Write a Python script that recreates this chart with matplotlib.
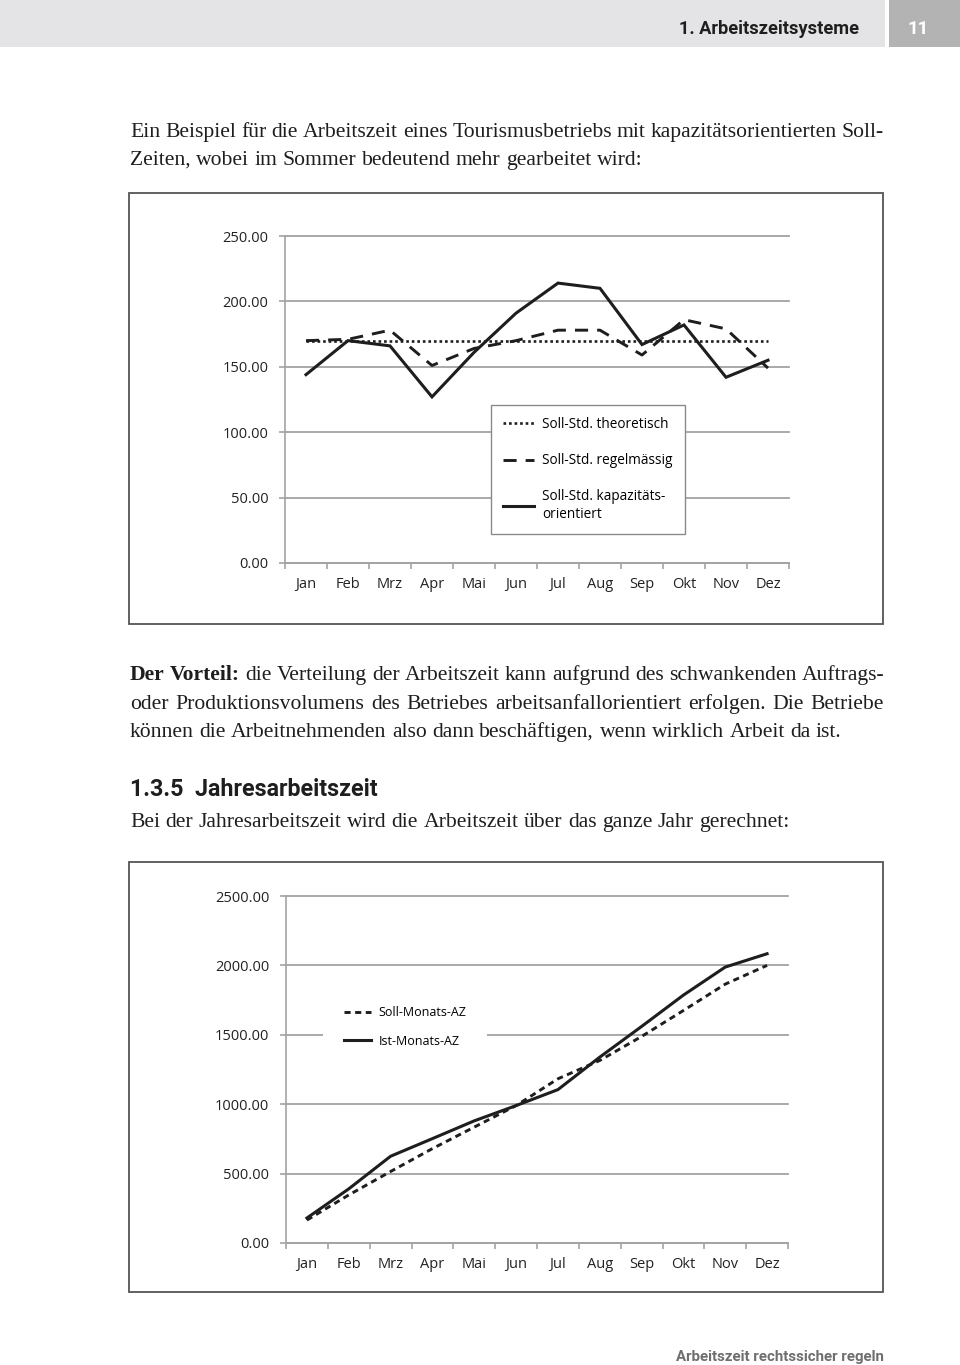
import numpy as np
import matplotlib
matplotlib.use('Agg')
import matplotlib.pyplot as plt
from matplotlib import font_manager as fm
from matplotlib.patches import Rectangle
from matplotlib.ticker import FormatStrFormatter

# ---- data ----
months = ['Jan', 'Feb', 'Mrz', 'Apr', 'Mai', 'Jun', 'Jul', 'Aug', 'Sep', 'Okt', 'Nov', 'Dez']

soll_theoretisch = [170, 170, 170, 170, 170, 170, 170, 170, 170, 170, 170, 170]
soll_regelmaessig = [170, 171, 178, 151, 164, 170, 178, 178, 159, 186, 179, 149]
soll_kapazitaet = [144, 170, 166, 127, 161, 191, 214, 210, 167, 182, 142, 155]

soll_monats_az = [165, 346, 515, 680, 835, 990, 1183, 1315, 1488, 1675, 1865, 2000]
ist_monats_az = [180, 390, 625, 752, 880, 990, 1105, 1339, 1560, 1786, 1988, 2084]


def pick(*names):
    for n in names:
        try:
            fm.findfont(fm.FontProperties(family=n), fallback_to_default=False)
            return n
        except Exception:
            pass
    return 'DejaVu Sans'


W, H = 960, 1365
SERIF = pick('Liberation Serif', 'DejaVu Serif')
SANS = pick('Open Sans', 'DejaVu Sans')
HEAD = pick('Roboto', 'Open Sans')
INK = '#1e1e1e'
GRID = '#a3a3a3'

fig = plt.figure(figsize=(W / 100, H / 100), dpi=100)
page = fig.add_axes([0, 0, 1, 1])
page.set_xlim(0, W)
page.set_ylim(H, 0)
page.axis('off')
renderer = fig.canvas.get_renderer()


def width_px(t):
    return t.get_window_extent(renderer).width


def fit_text(x, y, s, target, ha='left', **kw):
    # scale font so the string spans `target` pixels
    t = page.text(x, y, s, ha=ha, va='baseline', fontsize=10, **kw)
    t.set_fontsize(10 * target / width_px(t))
    return t


def body_line(y, line, size, justify=False, bold=0):
    words = line.split(' ')
    texts = [page.text(0, y, w, fontsize=size, family=SERIF, va='baseline',
                       color=INK, fontweight='bold' if i < bold else 'normal')
             for i, w in enumerate(words)]
    widths = [width_px(t) for t in texts]
    gap = size * 0.25 * 100 / 72
    if justify:
        gap = (884 - 130 - sum(widths)) / (len(words) - 1)
    x = 130
    for t, w in zip(texts, widths):
        t.set_x(x)
        x += w + gap


# ---- page header / footer ----
page.add_patch(Rectangle((0, 0), 885, 47, facecolor='#e4e4e6', edgecolor='none'))
page.add_patch(Rectangle((889, 0), 71, 47, facecolor='#b3b3b3', edgecolor='none'))
fit_text(859, 34, '1. Arbeitszeitsysteme', 180, ha='right', family=HEAD,
         fontweight='bold', color=INK)
page.text(918, 34, '11', ha='center', va='baseline', fontsize=13.5, family=HEAD,
          color='white', fontweight='bold')
fit_text(884, 1361, 'Arbeitszeit rechtssicher regeln', 208, ha='right',
         family=HEAD, color='#6e6e6e', fontweight='bold')

# ---- body text ----
probe = page.text(0, 0, 'können die Arbeitnehmenden also dann beschäftigen, wenn wirklich Arbeit da ist.',
                  fontsize=10, family=SERIF)
body_size = 10 * 708 / width_px(probe)
probe.remove()

body_line(137, 'Ein Beispiel für die Arbeitszeit eines Tourismusbetriebs mit kapazitätsorientierten Soll-',
          body_size, justify=True)
body_line(165, 'Zeiten, wobei im Sommer bedeutend mehr gearbeitet wird:', body_size)
body_line(680, 'Der Vorteil: die Verteilung der Arbeitszeit kann aufgrund des schwankenden Auftrags-',
          body_size, justify=True, bold=2)
body_line(709, 'oder Produktionsvolumens des Betriebes arbeitsanfallorientiert erfolgen. Die Betriebe',
          body_size, justify=True)
body_line(737, 'können die Arbeitnehmenden also dann beschäftigen, wenn wirklich Arbeit da ist.', body_size)
fit_text(130, 796, '1.3.5  Jahresarbeitszeit', 248, family=HEAD,
         fontweight='bold', color=INK)
body_line(827, 'Bei der Jahresarbeitszeit wird die Arbeitszeit über das ganze Jahr gerechnet:', body_size)

# chart frames
page.add_patch(Rectangle((129, 193), 754, 431, fill=False, edgecolor='#555555', lw=1.3))
page.add_patch(Rectangle((129, 862), 754, 430, fill=False, edgecolor='#555555', lw=1.3))


def px_axes(x0, y0, x1, y1):
    return fig.add_axes([x0 / W, 1 - y1 / H, (x1 - x0) / W, (y1 - y0) / H])


def style_chart(ax, ymax, step):
    ax.set_xlim(0, 12)
    ax.set_ylim(0, ymax)
    ax.set_yticks(np.arange(0, ymax + 1, step))
    ax.yaxis.set_major_formatter(FormatStrFormatter('%.2f'))
    ax.set_xticks(np.arange(12) + 0.5)
    ax.set_xticklabels(months)
    ax.set_xticks(np.arange(13), minor=True)
    ax.tick_params(axis='x', which='major', length=0, pad=10, labelsize=10.5, labelcolor='#222222')
    ax.tick_params(axis='x', which='minor', length=4, color=GRID, width=1.2)
    ax.tick_params(axis='y', length=4, color=GRID, width=1.2, pad=8, labelsize=10.5,
                   labelcolor='#222222')
    ax.grid(axis='y', color=GRID, lw=1.3)
    ax.set_axisbelow(True)
    for s in ['top', 'right']:
        ax.spines[s].set_visible(False)
    for s in ['left', 'bottom']:
        ax.spines[s].set_color(GRID)
        ax.spines[s].set_linewidth(1.2)
    for lbl in ax.get_xticklabels() + ax.get_yticklabels():
        lbl.set_family(SANS)
    for gl in ax.get_ygridlines():
        gl.set_clip_on(False)


x = np.arange(12) + 0.5

# ---- chart 1: monthly target hours ----
ax1 = px_axes(285, 236, 789, 563)
style_chart(ax1, 250, 50)
ax1.plot(x, soll_theoretisch, color=INK, lw=1.9, ls=(0, (1, 1.1)),
         label='Soll-Std. theoretisch')
ax1.plot(x, soll_regelmaessig, color=INK, lw=2.1, ls=(0, (4.5, 3.1)),
         label='Soll-Std. regelmässig')
ax1.plot(x, soll_kapazitaet, color=INK, lw=2.2, solid_joinstyle='miter',
         label='Soll-Std. kapazitäts-\norientiert')
leg1 = ax1.legend(loc='upper left', bbox_to_anchor=(491 / W, 1 - 405 / H),
                  bbox_transform=fig.transFigure, frameon=True, fancybox=False,
                  edgecolor='#8a8a8a', framealpha=1, borderpad=0.9, borderaxespad=0,
                  handlelength=2.28, handletextpad=0.59, labelspacing=1.55,
                  prop={'family': SANS, 'size': 9.8})
leg1.get_frame().set_linewidth(1.0)

# ---- chart 2: cumulative hours ----
ax2 = px_axes(286, 896, 788, 1243)
style_chart(ax2, 2500, 500)
ax2.plot(x, soll_monats_az, color=INK, lw=2.1, ls=(0, (2.1, 1.55)), label='Soll-Monats-AZ')
ax2.plot(x, ist_monats_az, color=INK, lw=2.2, solid_joinstyle='miter', label='Ist-Monats-AZ')
leg2 = ax2.legend(loc='upper left', bbox_to_anchor=(323 / W, 1 - 985 / H),
                  bbox_transform=fig.transFigure, frameon=True, fancybox=False,
                  edgecolor='none', facecolor='white', framealpha=1, borderpad=1.7,
                  handlelength=2.16, handletextpad=0.56, labelspacing=1.24,
                  borderaxespad=0, prop={'family': SANS, 'size': 9})

fig.savefig('out.png', dpi=100, facecolor='white')
